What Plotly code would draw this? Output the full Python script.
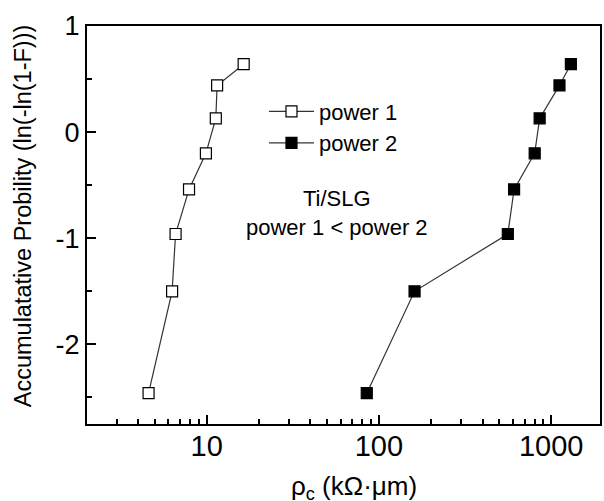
import numpy as np
import plotly.graph_objects as go

# Data
p1_rho = [4.6, 6.3, 6.6, 7.9, 9.9, 11.3, 11.5, 16.4]
p1_prob = [-2.46, -1.50, -0.96, -0.54, -0.20, 0.13, 0.44, 0.64]
p2_rho = [85, 161, 560, 609, 802, 857, 1117, 1301]
p2_prob = [-2.46, -1.50, -0.96, -0.54, -0.20, 0.13, 0.44, 0.64]
series_names = ["power 1", "power 2"]
x_ticks = [10, 100, 1000]
y_ticks = [-2, -1, 0, 1]

FONT = "Liberation Sans, Arial, sans-serif"
L, T, R, B = 87, 26, 2, 77
W, H = 604, 501

x_range = [np.log10(2.02), np.log10(1920)]
x_minor = [m * 10 ** e for e in range(0, 4) for m in range(2, 10)]

fig = go.Figure()
fig.add_trace(go.Scatter(
    x=p1_rho, y=p1_prob, mode="lines+markers", name=series_names[0],
    line=dict(color="#333333", width=1.2),
    marker=dict(symbol="square", size=11, color="white",
                line=dict(color="black", width=1.2)),
))
fig.add_trace(go.Scatter(
    x=p2_rho, y=p2_prob, mode="lines+markers", name=series_names[1],
    line=dict(color="#333333", width=1.2),
    marker=dict(symbol="square", size=11, color="black",
                line=dict(color="black", width=1.2)),
))
# invisible helper trace so the minor-tick overlay axis is drawn
fig.add_trace(go.Scatter(
    x=[p1_rho[0]], y=[p1_prob[0]], xaxis="x2", mode="markers",
    marker=dict(opacity=0), showlegend=False, hoverinfo="skip",
))

fig.update_layout(
    width=W, height=H,
    margin=dict(l=L, r=R, t=T, b=B, pad=0),
    paper_bgcolor="white", plot_bgcolor="white",
    font=dict(family=FONT, color="black"),
    showlegend=True,
    legend=dict(x=0.345, y=0.838, xanchor="left", yanchor="top",
                bgcolor="rgba(0,0,0,0)", font=dict(size=22, family=FONT),
                itemwidth=45, tracegroupgap=0),
    xaxis=dict(
        type="log", range=x_range,
        tickvals=x_ticks, ticktext=[str(v) for v in x_ticks],
        ticks="inside", ticklen=9, tickwidth=1.8, tickcolor="black",
        tickfont=dict(size=29, family=FONT), ticklabelstandoff=-5,
        showline=True, linecolor="black", linewidth=2, mirror=True,
        showgrid=False, zeroline=False,
    ),
    xaxis2=dict(
        type="log", range=x_range, overlaying="x", anchor="y", side="bottom",
        tickvals=x_minor, ticktext=["" for _ in x_minor],
        ticks="inside", ticklen=5, tickwidth=1.6, tickcolor="black",
        showline=False, showgrid=False, zeroline=False, showticklabels=False,
    ),
    yaxis=dict(
        range=[-2.75, 1],
        tickvals=y_ticks, ticktext=["-2", "-1", "0", "1"],
        ticks="inside", ticklen=9, tickwidth=1.8, tickcolor="black",
        tickfont=dict(size=27, family=FONT),
        showline=True, linecolor="black", linewidth=2, mirror=True,
        showgrid=False, zeroline=False,
        minor=dict(ticks="inside", ticklen=5, tickwidth=1.6, tickcolor="black",
                   dtick=0.5, showgrid=False),
    ),
)

pw = W - L - R
ph = H - T - B
fig.add_annotation(
    x=(338 - L) / pw, y=(H - B - 213) / ph, xref="paper", yref="paper",
    xanchor="center", yanchor="middle",
    text="Ti/SLG<br>power 1 &lt; power 2", showarrow=False,
    font=dict(size=22, family=FONT), align="center",
)
fig.add_annotation(
    x=(23 - L) / pw, y=(H - B - 216) / ph, xref="paper", yref="paper",
    xanchor="center", yanchor="middle",
    text="Accumulatative Probility (ln(-ln(1-F)))", textangle=-90,
    showarrow=False, font=dict(size=23.5, family=FONT),
)
fig.add_annotation(
    x=(355 - L) / pw, y=(H - B - 487) / ph, xref="paper", yref="paper",
    xanchor="center", yanchor="middle",
    text="ρ<sub>c</sub> (kΩ·μm)", showarrow=False,
    font=dict(size=26, family=FONT),
)

fig.write_html("out.html")
